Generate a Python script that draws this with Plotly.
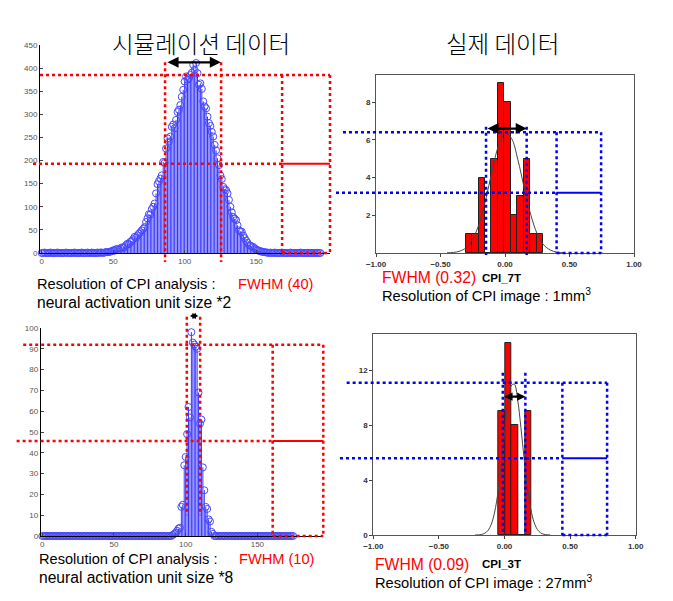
import plotly.graph_objects as go

W, H = 673, 601

# ---------------- data ----------------
TITLE_SIM = "시뮬레이션 데이터"
TITLE_REAL = "실제 데이터"

# simulated activation counts (FWHM 40), index 0..195
SIM40 = [0, 0, 1, 0, 0, 0, 1, 0, 0, 0, 0, 1, 0, 0, 0, 0, 0, 1, 0, 0,
         0, 0, 0, 1, 0, 0, 0, 0, 1, 0, 0, 0, 1, 0, 0, 1, 0, 0, 0, 1,
         0, 1, 1, 0, 1, 2,
         2, 2, 3, 4, 6, 5, 8, 9, 7, 10, 12, 11, 13, 17, 20, 19, 24, 26, 30, 35,
         33, 38, 42, 45, 49, 52, 56, 67, 75, 84, 83, 95, 100, 107, 129, 149, 155, 161, 168, 197,
         195, 226, 248, 241, 252, 273, 278, 270, 288, 305, 310, 320, 338, 353, 371, 382, 375, 378, 385, 390,
         407, 396, 411, 389, 364, 367, 355, 328, 317, 313, 295, 281, 275, 262, 252, 234, 222, 205, 190, 168,
         160, 143, 138, 136, 129, 115, 100, 88, 78, 74, 71, 60, 49, 47, 46, 38, 32, 27, 22, 17,
         16, 14, 13, 10, 8, 6, 5, 4, 3, 2, 2, 1,
         1, 0, 1, 0, 0, 1, 0, 0, 0, 0, 1, 0, 0, 0, 0, 0, 1, 0, 0, 0,
         0, 0, 0, 1, 0, 0, 0, 0, 0, 0, 0, 0, 0, 0, 0, 0, 0, 0]

# simulated activation counts (FWHM 10), index 0..175
SIM10 = [0] * 90 + [0, 0.5, 1, 1.5, 2.5, 3.5, 4, 14, 15, 34,
                    38, 49, 62, 57, 98, 93, 92, 91, 90, 69,
                    54, 56, 33, 22, 14, 13, 8, 7, 2, 1] + [0] * 56

# real data histograms (bin width 0.05)
CPI7_CENTERS = [-0.28, -0.23, -0.18, -0.13, -0.08, -0.03, 0.02, 0.07, 0.12, 0.17, 0.22, 0.27]
CPI7_COUNTS = [1, 1, 4, 0, 5, 9, 8, 2, 3, 5, 1, 1]
CPI7_CURVE_X = [-0.45, -0.40, -0.35, -0.30, -0.25, -0.20, -0.15, -0.10, -0.05, 0.00,
                0.05, 0.10, 0.15, 0.20, 0.25, 0.30, 0.35, 0.40, 0.45]
CPI7_CURVE_Y = [0.01, 0.03, 0.10, 0.29, 0.74, 1.56, 2.82, 4.35, 5.70, 6.38,
                6.08, 4.94, 3.42, 2.02, 1.01, 0.43, 0.16, 0.05, 0.01]

CPI3_CENTERS = [-0.02, 0.03, 0.08, 0.13, 0.18]
CPI3_COUNTS = [9, 14, 8, 0, 9]
CPI3_CURVE_X = [-0.225, -0.2, -0.175, -0.15, -0.125, -0.1, -0.075, -0.05, -0.025, 0.0,
                0.025, 0.05, 0.075, 0.1, 0.125, 0.15, 0.175, 0.2, 0.225, 0.25,
                0.275, 0.3, 0.325, 0.35]
CPI3_CURVE_Y = [0.0, 0.01, 0.04, 0.13, 0.34, 0.80, 1.67, 3.08, 5.07, 7.38,
                9.50, 10.84, 10.97, 9.85, 7.83, 5.52, 3.44, 1.91, 0.94, 0.41,
                0.16, 0.05, 0.02, 0.0]

SIM_XTICKS = [0, 50, 100, 150]
SIM40_YTICKS = [0, 50, 100, 150, 200, 250, 300, 350, 400, 450]
SIM10_YTICKS = [0, 10, 20, 30, 40, 50, 60, 70, 80, 90, 100]
REAL_XTICKS = [-1.0, -0.5, 0.0, 0.5, 1.0]
CPI7_YTICKS = [2, 4, 6, 8]
CPI3_YTICKS = [0, 4, 8, 12]

# FWHM guide levels (data units)
G40 = dict(peak=385, half=193, left=86.3, right=125.5, box_l=168.2, box_r=201.7,
           x_from_peak=-1.2, x_from_half=-6.1, v_top=412.6, v_bot=-19.5)
G10 = dict(peak=92, half=45.7, left=100.8, right=110.1, box_l=160.7, box_r=196,
           x_from_peak=-13.3, x_from_half=-17.9, v_top=105.4, v_bot=10)
G7 = dict(peak=6.4, half=3.2, left=-0.147, right=0.168, box_l=0.40, box_r=0.745,
          x_from_peak=-1.256, x_from_half=-1.31, v_top=6.7, v_bot=-0.1)
G3 = dict(peak=11.08, half=5.58, left=-0.013, right=0.159, box_l=0.441, box_r=0.782,
          x_from_peak=-1.203, x_from_half=-1.254, v_top=11.8, v_bot=0)

# ---------------- layout geometry ----------------
PANELS = {
    "tl": dict(xa="x", ya="y", box=(40, 330, 45, 253), xr=(-1.2, 201.7), yr=(0, 450)),
    "tr": dict(xa="x2", ya="y2", box=(376, 634, 75, 253), xr=(-1, 1), yr=(0, 9.44)),
    "bl": dict(xa="x3", ya="y3", box=(40.7, 323.3, 328, 536), xr=(-1.1, 196), yr=(0, 100)),
    "br": dict(xa="x4", ya="y4", box=(373.3, 635.7, 334, 535), xr=(-1, 1), yr=(0, 14.62)),
}


def px(p, v):
    L, R, T, B = PANELS[p]["box"]
    x0, x1 = PANELS[p]["xr"]
    return (L + (v - x0) / (x1 - x0) * (R - L)) / W


def py(p, v):
    L, R, T, B = PANELS[p]["box"]
    y0, y1 = PANELS[p]["yr"]
    return 1 - (B - (v - y0) / (y1 - y0) * (B - T)) / H


fig = go.Figure()


def stems(vals):
    xs, ys = [], []
    for i, v in enumerate(vals):
        xs += [i, i, None]
        ys += [0, v, None]
    return xs, ys


for key, vals in (("tl", SIM40), ("bl", SIM10)):
    sx, sy = stems(vals)
    a = PANELS[key]
    fig.add_trace(go.Scatter(x=sx, y=sy, mode="lines", line=dict(color="#0000ff", width=0.8),
                             xaxis=a["xa"], yaxis=a["ya"], hoverinfo="skip", cliponaxis=False))
    fig.add_trace(go.Scatter(x=list(range(len(vals))), y=vals, mode="markers",
                             marker=dict(symbol="circle-open", size=7, color="#4848ff",
                                         line=dict(width=1, color="#4848ff")),
                             xaxis=a["xa"], yaxis=a["ya"], cliponaxis=False))

for key, cx, cy, lx, ly in (("tr", CPI7_CENTERS, CPI7_COUNTS, CPI7_CURVE_X, CPI7_CURVE_Y),
                            ("br", CPI3_CENTERS, CPI3_COUNTS, CPI3_CURVE_X, CPI3_CURVE_Y)):
    a = PANELS[key]
    fig.add_trace(go.Bar(x=cx, y=cy, width=0.05, marker=dict(color="#ff0000",
                         line=dict(color="#222222", width=1)),
                         xaxis=a["xa"], yaxis=a["ya"]))
    fig.add_trace(go.Scatter(x=lx, y=ly, mode="lines", line=dict(color="#444444", width=1, shape="spline"),
                             xaxis=a["xa"], yaxis=a["ya"]))

# ---------------- axes ----------------
tickfont = dict(family="Liberation Sans, Arial", size=8, color="#555555")
for key, p in PANELS.items():
    L, R, T, B = p["box"]
    xname = "xaxis" + p["xa"][1:]
    yname = "yaxis" + p["ya"][1:]
    sim = key in ("tl", "bl")
    common = dict(showgrid=False, zeroline=False, showline=True, linewidth=1, tickfont=tickfont,
                  automargin=False)
    if sim:
        xax = dict(common, domain=[L / W, R / W], range=list(p["xr"]), tickvals=SIM_XTICKS,
                   ticks="inside", ticklen=3, linecolor="#000000", anchor=p["ya"], mirror=False)
        yt = SIM40_YTICKS if key == "tl" else SIM10_YTICKS
        yax = dict(common, domain=[1 - B / H, 1 - T / H], range=list(p["yr"]), tickvals=yt,
                   ticks="inside", ticklen=3, linecolor="#000000", anchor=p["xa"], mirror=False)
    else:
        tf = dict(family="Liberation Sans, Arial", size=8, color="#333333", weight="bold")
        xax = dict(common, domain=[L / W, R / W], range=list(p["xr"]), tickvals=REAL_XTICKS,
                   tickformat=".2f", ticks="outside", ticklen=3, linecolor="#555555",
                   mirror=True, anchor=p["ya"], tickfont=tf)
        yt = CPI7_YTICKS if key == "tr" else CPI3_YTICKS
        yax = dict(common, domain=[1 - B / H, 1 - T / H], range=list(p["yr"]), tickvals=yt,
                   ticks="outside", ticklen=3, linecolor="#555555", mirror=True,
                   anchor=p["xa"], tickfont=tf)
    fig.layout[xname] = xax
    fig.layout[yname] = yax

# ---------------- guides ----------------
shapes = []
annotations = []


def guides(p, g, color):
    dot = dict(color=color, width=2.5, dash="dot")
    def seg(x0, y0, x1, y1, line):
        shapes.append(dict(type="line", xref="paper", yref="paper",
                           x0=px(p, x0), y0=py(p, y0), x1=px(p, x1), y1=py(p, y1), line=line))
    seg(g["x_from_peak"], g["peak"], g["box_r"], g["peak"], dot)
    seg(g["x_from_half"], g["half"], g["box_l"], g["half"], dot)
    seg(g["left"], g["v_top"], g["left"], g["v_bot"], dot)
    seg(g["right"], g["v_top"], g["right"], g["v_bot"], dot)
    seg(g["box_l"], g["peak"], g["box_l"], PANELS[p]["yr"][0], dot)
    seg(g["box_r"], g["peak"], g["box_r"], PANELS[p]["yr"][0], dot)
    seg(g["box_l"], PANELS[p]["yr"][0], g["box_r"], PANELS[p]["yr"][0], dot)
    seg(g["box_l"], g["half"], g["box_r"], g["half"], dict(color=color, width=2))


def arrow(p, x0, x1, yv, size=1.0):
    xa, xb, yy = px(p, x0), px(p, x1), py(p, yv)
    annotations.append(dict(x=xb, y=yy, ax=-(xb - xa) * W, ay=0, xref="paper", yref="paper",
                            axref="pixel", ayref="pixel", text="", showarrow=True,
                            arrowhead=2, startarrowhead=2, arrowside="end+start",
                            arrowsize=size, startarrowsize=size, arrowwidth=2.2, arrowcolor="#000000"))


guides("tl", G40, "#ff0000")
guides("bl", G10, "#ff0000")
guides("tr", G7, "#0000ff")
guides("br", G3, "#0000ff")
arrow("tl", 87.0, 125.3, 412.6)
arrow("bl", 101.9, 108.9, 105.8, 0.55)
arrow("tr", -0.147, 0.168, 6.6)
arrow("br", -0.013, 0.159, 10.06, 0.75)


def text(xp, yp, s, size, color="#000000", bold=False, family="Liberation Sans, Arial",
         anchor="left", weight=None):
    w = weight if weight is not None else ("bold" if bold else "normal")
    annotations.append(dict(x=xp / W, y=1 - yp / H, xref="paper", yref="paper", text=s,
                            showarrow=False, xanchor=anchor, yanchor="middle",
                            font=dict(family=family, size=size, color=color, weight=w)))


KR = "Noto Sans CJK KR, sans-serif"
text(201, 43, TITLE_SIM, 23.5, family=KR, anchor="center", weight=300)
text(502, 43, TITLE_REAL, 23.5, family=KR, anchor="center", weight=300)

text(35, 283.5, "Resolution of CPI analysis :", 14.6)
text(235.5, 283.5, "FWHM (40)", 14.6, color="#ff0000")
text(35, 302.5, "neural activation unit size *2", 15.6)

text(36.5, 558.5, "Resolution of CPI analysis :", 14.6)
text(236.5, 558.5, "FWHM (10)", 14.6, color="#ff0000")
text(36.5, 577, "neural activation unit size *8", 15.6)

text(380, 277, "FWHM (0.32)", 15.7, color="#ff0000")
text(480, 277.5, "CPI_7T", 11.5, bold=True)
text(380, 294.5, "Resolution of CPI image : 1mm<sup>3</sup>", 14.7)

text(373, 564, "FWHM (0.09)", 15.7, color="#ff0000")
text(480, 564, "CPI_3T", 11.5, bold=True)
text(373, 581.5, "Resolution of CPI image : 27mm<sup>3</sup>", 14.7)

fig.update_layout(width=W, height=H, margin=dict(l=0, r=0, t=0, b=0),
                  paper_bgcolor="white", plot_bgcolor="white", showlegend=False,
                  bargap=0, shapes=shapes, annotations=annotations)

fig.write_html("out.html", config={"displayModeBar": False},
               post_script="document.body.style.margin='0px';")
